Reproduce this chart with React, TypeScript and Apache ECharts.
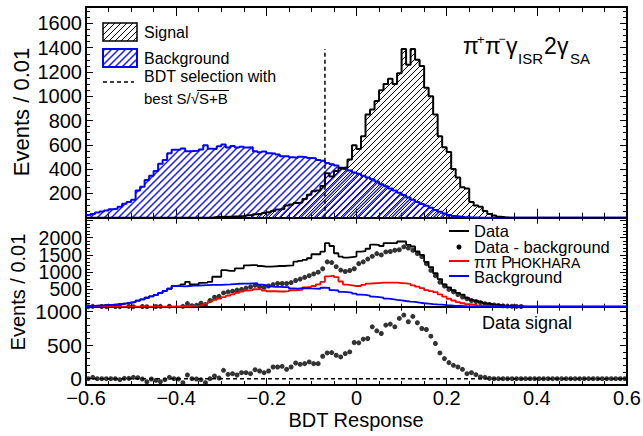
import React, { useEffect, useRef } from 'react';
import * as echarts from 'echarts';

// ---------- data (bin width 0.01, 120 bins from -0.6 to 0.6) ----------
const xMin = -0.6;
const xMax = 0.6;
const binWidth = 0.01;
const xTickStep = 0.2;

// top panel: signal MC (black hatched)
const signalTop = [
  0, 0, 0, 0, 0, 0, 0, 0, 0, 0,
  0, 0, 0, 0, 0, 0, 0, 0, 0, 0,
  0, 0, 0, 0, 0, 0, 0, 0, 5, 8,
  5, 8, 10, 12, 15, 20, 22, 28, 32, 38,
  45, 55, 68, 72, 100, 108, 122, 125, 155, 190,
  218, 225, 262, 365, 340, 385, 410, 415, 480, 596,
  565, 670, 850, 890, 960, 1050, 1100, 1145, 1100, 1190,
  1390, 1260, 1390, 1300, 1250, 1070, 1000, 850, 670, 580,
  540, 400, 330, 250, 240, 130, 100, 90, 55, 30,
  18, 8, 3, 0, 0, 0, 0, 0, 0, 0,
  0, 0, 0, 0, 0, 0, 0, 0, 0, 0,
  0, 0, 0, 0, 0, 0, 0, 0, 0, 0,
];

// top panel: background MC (blue hatched)
const backgroundTop = [
  22, 30, 42, 52, 60, 70, 74, 90, 115, 130,
  148, 225, 255, 310, 345, 385, 445, 475, 530, 560,
  562, 570, 548, 550, 552, 562, 596, 568, 566, 588,
  602, 578, 590, 578, 585, 578, 580, 548, 538, 545,
  530, 528, 520, 507, 505, 498, 494, 502, 498, 492,
  490, 476, 468, 450, 440, 430, 412, 400, 388, 372,
  362, 345, 330, 316, 298, 276, 258, 240, 224, 206,
  186, 166, 148, 130, 112, 98, 82, 64, 48, 34,
  22, 15, 10, 6, 4, 2, 1, 0, 0, 0,
  0, 0, 0, 0, 0, 0, 0, 0, 0, 0,
  0, 0, 0, 0, 0, 0, 0, 0, 0, 0,
  0, 0, 0, 0, 0, 0, 0, 0, 0, 0,
];

// BDT cut
const cutValue = -0.07;
const cutHeight = 1390;

// middle panel
const dataMid = [
  20, 25, 30, 35, 45, 55, 65, 78, 95, 115,
  135, 175, 210, 260, 300, 340, 400, 460, 520, 600,
  620, 650, 722, 650, 650, 690, 700, 722, 868, 868,
  1060, 1040, 1042, 1111, 1111, 1200, 1208, 1208, 1180, 1160,
  1160, 1170, 1180, 1180, 1190, 1200, 1306, 1330, 1355, 1404,
  1520, 1520, 1598, 1842, 1760, 1550, 1450, 1420, 1440, 1452,
  1598, 1610, 1680, 1800, 1793, 1760, 1842, 1842, 1842, 1890,
  1890, 1793, 1745, 1600, 1500, 1300, 1150, 970, 800, 650,
  560, 477, 400, 351, 254, 200, 170, 137, 95, 80,
  58, 45, 30, 20, 15, 10, 8, 0, 0, 0,
  0, 0, 0, 0, 0, 0, 0, 0, 0, 0,
  0, 0, 0, 0, 0, 0, 0, 0, 0, 0,
];

const dataMinusBkg: (number | null)[] = [
  0, 10, -5, 5, 0, -10, 5, 0, -5, 10,
  0, -10, 5, 0, -10, 5, 10, -5, 15, -20,
  -30, 10, 90, 30, 40, 100, 60, 180, 273, 300,
  400, 430, 450, 480, 500, 540, 575, 620, 580, 560,
  600, 640, 672, 672, 672, 700, 760, 800, 850, 900,
  950, 1000, 1100, 1300, 1280, 1160, 1062, 1020, 1050, 1100,
  1248, 1300, 1380, 1460, 1540, 1500, 1588, 1600, 1637, 1650,
  1735, 1700, 1637, 1540, 1450, 1248, 1053, 900, 711, 600,
  500, 430, 350, 280, 230, 180, 150, 120, 85, 65,
  50, 35, 25, 18, 12, 8, 5, null, null, null,
  null, null, null, null, null, null, null, null, null, null,
  null, null, null, null, null, null, null, null, null, null,
];

const phokhara = [
  0, 0, 0, 0, 0, 0, 0, 0, 0, 0,
  0, 0, 0, 0, 0, 0, 0, 0, 5, 8,
  10, 15, 20, 25, 30, 50, 88, 150, 200, 234,
  280, 320, 360, 400, 440, 470, 480, 506, 500, 470,
  448, 448, 440, 440, 450, 477, 480, 490, 560, 575,
  600, 650, 720, 880, 900, 860, 730, 640, 620, 600,
  600, 630, 670, 680, 685, 695, 700, 700, 695, 685,
  675, 660, 620, 580, 540, 480, 450, 420, 360, 290,
  230, 180, 130, 100, 75, 58, 40, 28, 20, 12,
  8, 5, 3, 2, 1, 0, 0, 0, 0, 0,
  0, 0, 0, 0, 0, 0, 0, 0, 0, 0,
  0, 0, 0, 0, 0, 0, 0, 0, 0, 0,
];

const backgroundMid = [
  20, 25, 30, 35, 45, 55, 65, 78, 95, 115,
  135, 175, 210, 260, 300, 340, 400, 460, 520, 600,
  596, 590, 600, 610, 615, 620, 625, 630, 635, 635,
  640, 645, 655, 665, 668, 670, 675, 680, 640, 625,
  590, 575, 575, 570, 565, 530, 525, 540, 535, 530,
  526, 520, 550, 545, 480, 470, 430, 425, 410, 380,
  350, 340, 320, 290, 280, 260, 234, 220, 200, 184,
  165, 150, 137, 120, 100, 88, 75, 65, 58, 45,
  35, 25, 20, 15, 10, 8, 5, 3, 2, 1,
  0, 0, 0, 0, 0, 0, 0, 0, 0, 0,
  0, 0, 0, 0, 0, 0, 0, 0, 0, 0,
  0, 0, 0, 0, 0, 0, 0, 0, 0, 0,
];

// bottom panel: data signal
const dataSignal = [
  0, 20, 0, 0, 0, 0, 0, -15, 5, 5,
  20, 15, -5, -45, -5, -25, -45, -15, 20, 0,
  -5, -60, 55, 0, -5, -15, -60, 0, 40, 10,
  125, 65, 75, 55, 90, 90, 75, 135, 115, 90,
  115, 175, 175, 185, 140, 175, 235, 215, 225, 250,
  225, 225, 335, 385, 390, 350, 325, 375, 400, 540,
  535, 590, 600, 775, 715, 675, 800, 816, 775, 900,
  950, 850, 930, 835, 750, 735, 635, 525, 385, 300,
  240, 200, 175, 140, 75, 90, 60, 25, 20, 5,
  0, 0, 0, 0, 0, 0, 0, 0, 0, 0,
  0, 0, 0, 0, 0, 0, 0, 0, 0, 0,
  0, 0, 0, 0, 0, 0, 0, 0, 0, 0,
];

// axis ranges / ticks
const topYMax = 1735;
const topYStep = 200;
const midYMax = 2580;
const midYStep = 500;
const midYLabels = [500, 1000, 1500, 2000];
const botYMin = -94;
const botYMax = 1075;
const botYMajor = [0, 500, 1000];
const botYMinor = [100, 200, 300, 400, 600, 700, 800, 900];

// ---------- helpers ----------
const FONT = '"Liberation Sans", Arial, Helvetica, sans-serif';

function histEdges(vals: number[]) {
  const pts: [number, number][] = vals.map((v, i) => [+(xMin + i * binWidth).toFixed(3), v]);
  pts.push([xMax, vals[vals.length - 1]]);
  return pts;
}
function binCenters(vals: (number | null)[]) {
  const pts: [number, number][] = [];
  vals.forEach((v, i) => {
    if (v !== null) pts.push([+(xMin + (i + 0.5) * binWidth).toFixed(4), v]);
  });
  return pts;
}
function fmtX(v: number) {
  const r = Math.round(v * 10) / 10;
  if (r === 0) return '0';
  return r.toFixed(1).replace('-', '\u2212');
}
function hatch(color: string, s: number, w: number) {
  const d = `M${-s - 1} ${s + 1} L${1} ${-1} M-1 ${s + 1} L${s + 1} -1 M${s - 1} ${s + 1} L${2 * s + 1} -1`;
  const svg = `<svg xmlns="http://www.w3.org/2000/svg" width="${s}" height="${s}"><path d="${d}" stroke="${color}" stroke-width="${w}" fill="none"/></svg>`;
  return {
    image: 'data:image/svg+xml;charset=utf-8,' + encodeURIComponent(svg),
    imageWidth: s, imageHeight: s, repeat: 'repeat',
  };
}

function xAx(grid: number, position: 'top' | 'bottom', labels: boolean, major: number, minor: number) {
  return {
    type: 'value', gridIndex: grid, position, min: xMin, max: xMax, interval: xTickStep,
    axisLine: { show: true, onZero: false, lineStyle: { color: '#000', width: 2 } },
    axisTick: { show: true, inside: true, length: major, lineStyle: { color: '#000', width: 1 } },
    minorTick: { show: true, splitNumber: 4, length: minor, lineStyle: { color: '#000', width: 1 } },
    splitLine: { show: false }, minorSplitLine: { show: false },
    axisLabel: { show: labels, color: '#000', fontSize: 20, fontFamily: FONT, margin: 3, formatter: fmtX },
  };
}
function yAx(grid: number, position: 'left' | 'right', min: number, max: number, interval: number,
  split: number, labels: boolean, fmt: (v: number) => string, fontSize: number) {
  return {
    type: 'value', gridIndex: grid, position, min, max, interval,
    axisLine: { show: true, onZero: false, lineStyle: { color: '#000', width: 2 } },
    axisTick: { show: true, inside: true, length: 7, lineStyle: { color: '#000', width: 1 } },
    minorTick: { show: true, splitNumber: split, length: 4, lineStyle: { color: '#000', width: 1 } },
    splitLine: { show: false }, minorSplitLine: { show: false },
    axisLabel: { show: labels, color: '#000', fontSize, lineHeight: 16, fontFamily: FONT, margin: 4, formatter: fmt },
  };
}
function yCustom(grid: number, position: 'left' | 'right', ticks: number[], len: number, labels: boolean, line: boolean) {
  return {
    type: 'value', gridIndex: grid, position, min: botYMin, max: botYMax,
    axisLine: { show: line, onZero: false, lineStyle: { color: '#000', width: 2 } },
    axisTick: { show: true, inside: true, length: len, customValues: ticks, lineStyle: { color: '#000', width: 1 } },
    splitLine: { show: false },
    axisLabel: { show: labels, customValues: ticks, color: '#000', fontSize: 21, lineHeight: 18, fontFamily: FONT, margin: 4,
      formatter: (v: number) => String(Math.round(v)) },
  };
}

export default function App() {
  const ref = useRef<HTMLDivElement>(null);
  useEffect(() => {
    if (!ref.current) return;
    const chart = echarts.init(ref.current, undefined, { renderer: 'svg' });
    const hatchBlack = hatch('#000000', 6, 1);
    const hatchBlue = hatch('#1a1aff', 7, 1.5);
    const hatchBlackL = hatch('#000000', 6, 1);
    const hatchBlueL = hatch('#1a1aff', 7, 1.5);

    const txt = (text: string, x: number, y: number, size: number, extra: any = {}) => ({
      type: 'text', x, y, silent: true,
      style: { text, fill: '#000', font: `${size}px ${FONT}`, textAlign: 'left', textVerticalAlign: 'middle', ...extra },
    });

    const option: any = {
      animation: false,
      backgroundColor: '#fff',
      grid: [
        { left: 86, right: 16, top: 7, height: 210.7, containLabel: false, outerBoundsMode: 'none' },
        { left: 86, right: 16, top: 217.7, height: 89, containLabel: false, outerBoundsMode: 'none' },
        { left: 86, right: 16, top: 306.7, height: 78.3, containLabel: false, outerBoundsMode: 'none' },
      ],
      xAxis: [
        xAx(0, 'bottom', false, 9, 5),
        xAx(0, 'top', false, 9, 5),
        xAx(1, 'bottom', false, 6, 3),
        xAx(1, 'top', false, 6, 3),
        xAx(2, 'bottom', true, 7, 4),
        xAx(2, 'top', false, 7, 4),
      ],
      yAxis: [
        yAx(0, 'left', 0, topYMax, topYStep, 4, true, (v) => (v > 0 && v % topYStep === 0 ? String(v) : ''), 20),
        yAx(0, 'right', 0, topYMax, topYStep, 4, false, () => '', 20),
        yAx(1, 'left', 0, midYMax, midYStep, 5, true, (v) => (midYLabels.includes(v) ? String(v) : ''), 19.5),
        yAx(1, 'right', 0, midYMax, midYStep, 5, false, () => '', 19.5),
        yCustom(2, 'left', botYMajor, 7, true, true),
        yCustom(2, 'right', botYMajor, 7, false, true),
        yCustom(2, 'left', botYMinor, 4, false, false),
        yCustom(2, 'right', botYMinor, 4, false, false),
      ],
      series: [
        {
          name: 'Background', type: 'line', step: 'end', xAxisIndex: 0, yAxisIndex: 0,
          data: histEdges(backgroundTop), symbol: 'none',
          lineStyle: { color: '#0000ff', width: 2 },
          areaStyle: { color: hatchBlue, opacity: 1 },
        },
        {
          name: 'Signal', type: 'line', step: 'end', xAxisIndex: 0, yAxisIndex: 0,
          data: histEdges(signalTop), symbol: 'none',
          lineStyle: { color: '#000', width: 2 },
          areaStyle: { color: hatchBlack, opacity: 1 },
        },
        {
          name: 'cut', type: 'line', xAxisIndex: 0, yAxisIndex: 0,
          data: [[cutValue, 0], [cutValue, cutHeight]], symbol: 'none',
          lineStyle: { color: '#000', width: 1.5, type: [4, 3] },
        },
        {
          name: 'Data', type: 'line', step: 'end', xAxisIndex: 2, yAxisIndex: 2,
          data: histEdges(dataMid), symbol: 'none', lineStyle: { color: '#000', width: 1.8 },
        },
        {
          name: 'PHOKHARA', type: 'line', step: 'end', xAxisIndex: 2, yAxisIndex: 2,
          data: histEdges(phokhara), symbol: 'none', lineStyle: { color: '#ff0000', width: 1.8 },
        },
        {
          name: 'BackgroundMid', type: 'line', step: 'end', xAxisIndex: 2, yAxisIndex: 2,
          data: histEdges(backgroundMid), symbol: 'none', lineStyle: { color: '#0000ff', width: 1.8 },
        },
        {
          name: 'Data - background', type: 'scatter', xAxisIndex: 2, yAxisIndex: 2,
          data: binCenters(dataMinusBkg), symbol: 'circle', symbolSize: 5,
          itemStyle: { color: '#000' },
        },
        {
          name: 'zero', type: 'line', xAxisIndex: 4, yAxisIndex: 4,
          data: [[xMin, 0], [xMax, 0]], symbol: 'none',
          lineStyle: { color: '#000', width: 1.5, type: [4, 3] },
        },
        {
          name: 'Data signal', type: 'scatter', xAxisIndex: 4, yAxisIndex: 4,
          data: binCenters(dataSignal), symbol: 'circle', symbolSize: 5,
          itemStyle: { color: '#000' },
        },
      ],
      graphic: {
        elements: [
          // axis titles
          { ...txt('Events / 0.01', 21, 112, 22, { textAlign: 'center' }), rotation: Math.PI / 2 },
          { ...txt('Events / 0.01', 18, 292, 20, { textAlign: 'center' }), rotation: Math.PI / 2 },
          txt('BDT Response', 356, 420, 20, { textAlign: 'center' }),
          // top legend
          { type: 'rect', shape: { x: 103, y: 23, width: 34, height: 18 }, style: { fill: hatchBlackL, stroke: '#000', lineWidth: 1.5 } },
          txt('Signal', 144, 32, 16),
          { type: 'rect', shape: { x: 103, y: 49, width: 34, height: 18 }, style: { fill: hatchBlueL, stroke: '#0000ff', lineWidth: 2 } },
          txt('Background', 144, 58, 16),
          { type: 'line', shape: { x1: 103, y1: 82, x2: 134, y2: 82 }, style: { stroke: '#000', lineWidth: 1.5, lineDash: [4, 3] } },
          txt('BDT selection with', 144, 76, 16),
          txt('best S/\u221AS+B', 144, 98, 15),
          { type: 'line', shape: { x1: 197, y1: 90.5, x2: 229, y2: 90.5 }, style: { stroke: '#000', lineWidth: 1 } },
          // process label
          txt('\u03C0', 463, 45.5, 23, { lineHeight: 14 }),
          txt('+', 477, 39, 13, { lineHeight: 8 }),
          txt('\u03C0', 485, 45.5, 23, { lineHeight: 14 }),
          txt('\u2212', 498.5, 39, 12, { lineHeight: 8 }),
          txt('\u03B3', 506, 45.5, 23, { lineHeight: 14 }),
          txt('ISR', 518, 58.5, 15, { lineHeight: 10 }),
          txt('2', 544, 45.5, 23, { lineHeight: 14 }),
          txt('\u03B3', 557, 45.5, 23, { lineHeight: 14 }),
          txt('SA', 570, 58.5, 15, { lineHeight: 10 }),
          // middle legend
          { type: 'line', shape: { x1: 449, y1: 231, x2: 469, y2: 231 }, style: { stroke: '#000', lineWidth: 2 } },
          txt('Data', 474, 231, 16.5, { lineHeight: 13 }),
          { type: 'circle', shape: { cx: 459, cy: 247, r: 2.5 }, style: { fill: '#000' } },
          txt('Data - background', 474, 246.5, 16.5, { lineHeight: 13 }),
          { type: 'line', shape: { x1: 449, y1: 261, x2: 469, y2: 261 }, style: { stroke: '#ff0000', lineWidth: 2 } },
          txt('\u03C0\u03C0 P', 474, 261.5, 16.5, { lineHeight: 13 }),
          txt('HOKHARA', 511, 263, 14, { lineHeight: 11 }),
          { type: 'line', shape: { x1: 449, y1: 276, x2: 469, y2: 276 }, style: { stroke: '#0000ff', lineWidth: 2 } },
          txt('Background', 474, 276.5, 16.5, { lineHeight: 13 }),
          // bottom label
          txt('Data signal', 482, 323, 18),
        ],
      },
    };
    chart.setOption(option);
    return () => chart.dispose();
  }, []);
  return <div ref={ref} style={{ position: 'fixed', left: 0, top: 0, width: 643, height: 436 }} />;
}
